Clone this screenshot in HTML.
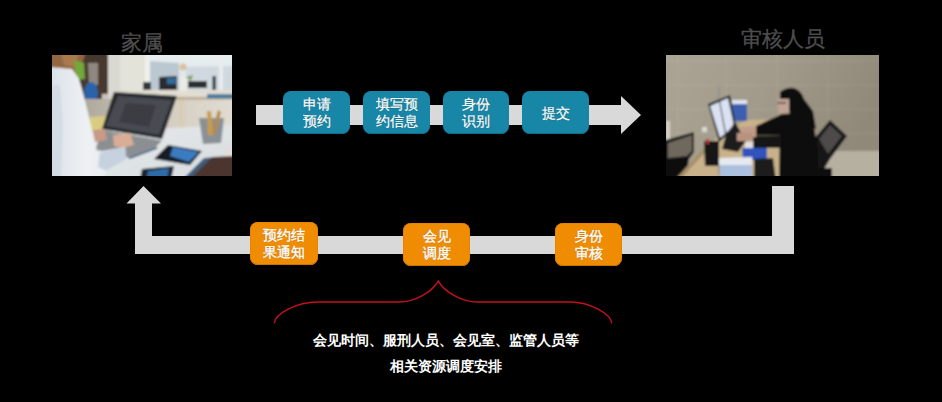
<!DOCTYPE html>
<html><head><meta charset="utf-8">
<style>
html,body{margin:0;padding:0;background:#000;}
body{width:942px;height:402px;position:relative;overflow:hidden;font-family:"Liberation Sans",sans-serif;}
.a{position:absolute;}
.ttl{position:absolute;color:#4e4e4e;font-size:21px;line-height:21px;-webkit-text-stroke:0.3px #4e4e4e;white-space:nowrap;}
.bar{position:absolute;background:#d9d9d9;}
.box{position:absolute;border-radius:7px;color:#fff;font-size:14px;line-height:17px;-webkit-text-stroke:0.25px #fff;text-align:center;display:flex;align-items:center;justify-content:center;box-sizing:border-box;text-shadow:0 0 1px rgba(0,0,0,.5);}
.blue{border-radius:8px;padding-top:1px;background:#1886a6;box-shadow:inset 0 -1px 0 #136a84;}
.orange{background:#f08c02;box-shadow:inset 0 -1px 0 #c97402, inset 0 0 0 0.5px #d87c04;padding-top:1px;border-radius:8px;-webkit-text-stroke:0.4px #fff;}
.note{position:absolute;color:#fff;font-size:14px;font-weight:bold;line-height:14px;white-space:nowrap;text-align:center;}
</style></head><body>

<div class="ttl" style="left:121px;top:32px;">家属</div>
<div class="ttl" style="left:741px;top:28px;">审核人员</div>

<!-- photo 1 -->
<div class="a" id="p1" style="left:52px;top:55px;width:180px;height:121px;overflow:hidden;"><svg width="180" height="121" viewBox="0 0 180 121">
<defs><filter id="b1" x="-10%" y="-10%" width="120%" height="120%"><feGaussianBlur stdDeviation="0.9"/></filter>
<linearGradient id="win" x1="0" y1="0" x2="0" y2="1"><stop offset="0" stop-color="#eaf0f2"/><stop offset="1" stop-color="#d8e1e6"/></linearGradient>
<linearGradient id="desk" x1="0" y1="0" x2="1" y2="1"><stop offset="0" stop-color="#e8eaea"/><stop offset="1" stop-color="#d6dce0"/></linearGradient>
<linearGradient id="shirt" x1="0" y1="0" x2="1" y2="0"><stop offset="0" stop-color="#dae1e8"/><stop offset="0.5" stop-color="#eef1f4"/><stop offset="1" stop-color="#e2e7ed"/></linearGradient>
<linearGradient id="floor" x1="0" y1="0" x2="1" y2="0"><stop offset="0" stop-color="#aaa59a"/><stop offset="0.5" stop-color="#d2cbbf"/><stop offset="1" stop-color="#e2ddd3"/></linearGradient>
<pattern id="dots" width="3" height="3" patternUnits="userSpaceOnUse"><rect width="3" height="3" fill="#3a3e44"/><rect x="0.5" y="0.5" width="1.6" height="1.4" fill="#24272b"/></pattern>
</defs>
<g filter="url(#b1)">
<rect x="-5" y="-5" width="190" height="131" fill="#d4d0c6"/>
<rect x="68" y="-5" width="119" height="42" fill="url(#win)"/>
<rect x="68" y="-5" width="26" height="42" fill="#e4e3da"/>
<path d="M97,6 L127,8 L127,36 L97,36 Z" fill="#bcc8d1"/>
<path d="M134,12 L184,11 L184,36 L134,36 Z" fill="#d0d9df"/>
<rect x="93" y="-4" width="5" height="40" fill="#eef0ec"/>
<rect x="167" y="-4" width="4" height="40" fill="#e8ecec"/>
<rect x="55" y="-5" width="13" height="46" fill="#d9d8d1"/>
<rect x="24" y="-5" width="32" height="54" fill="#46392f"/>
<path d="M36,8 L46,8 L46,30 L37,30 Z" fill="#8e8880"/>
<ellipse cx="39" cy="38" rx="7" ry="11" fill="#2a64aa"/>
<path d="M50,39 L56,39 L56,47 L50,47 Z" fill="#c9c2bb"/>
<rect x="26" y="44" width="160" height="34" fill="url(#floor)"/>
<rect x="127" y="44" width="5" height="30" fill="#d8ccb6"/>
<rect x="68" y="35" width="119" height="9" fill="#e2ddd2"/>
<rect x="68" y="42" width="119" height="2.5" fill="#b9a88f"/>
<path d="M91,27 L99,27 L99,35 L91,35 Z" fill="#30343a"/>
<path d="M107,22 L125,21 L125,35 L107,35 Z" fill="#2a2c30"/>
<path d="M115,23 L124,23 L124,29 L115,29 Z" fill="#2f6e9a"/>
<path d="M136,26 L155,26 L155,33 L136,33 Z" fill="#2c2e32"/>
<rect x="160.5" y="21" width="3.5" height="14" fill="#34393e"/>
<path d="M155,39 L184,39 L184,43.5 L155,43.5 Z" fill="#4a7fa0"/>
<ellipse cx="131" cy="12" rx="3.5" ry="3.5" fill="#dcc09a"/>
<path d="M128,22 L135,22 L135,36 L128,36 Z" fill="#eceae4"/>
<path d="M134,22 L141,20 L139,26 Z" fill="#7aa060"/>
<path d="M38,62 L55,61 L52,75 L38,75 Z" fill="#d9cc80"/>
<path d="M26,77 L184,70 L184,125 L26,125 Z" fill="url(#desk)"/>
<path d="M62,37 L125,41 L110,84 L50,74 Z" fill="#26292d"/>
<path d="M66,41 L120,45 L107,80 L54,71 Z" fill="#484c52"/>
<path d="M74,48 L104,50 L97,72 L67,67 Z" fill="#3a3d42"/>
<path d="M49.5,74.7 L110,85.4 L104,92 L76,102.6 L43.7,94.4 Z" fill="#8c8f92"/><path d="M76,102.6 L104,92 L106,93.5 L78,104 Z" fill="#4a6a8a"/>
<path d="M40.5,75 L53,74 L55,85 L43,87 Z" fill="#c89a88"/>
<path d="M61,80 L78,78 L82,90 L70,93 L62,91 Z" fill="#d9ad96"/>
<path d="M-4,-4 L34,-4 L31,6 L24,20 L14,15 L-4,12 Z" fill="#936642"/>
<path d="M8,-4 L28,-4 L22,12 L12,10 Z" fill="#a87a4e"/>
<path d="M22,5 L32,8 L33,24 L24,25 Z" fill="#74a83a"/>
<path d="M-4,12 L20,14 L27,24 L31,38 L34,50 L37,62 L40,75 L42,86 L45,97 L73,92 L74,104 L55,116 L50,125 L-4,125 Z" fill="url(#shirt)"/><path d="M47.8,97.7 L73.3,92 L74,104.3 L54.4,115.8 L46,112 Z" fill="#c6d2e0"/>
<path d="M-4,30 L8,30 L11,70 L9,125 L-4,125 Z" fill="#d3dbe4"/>
<path d="M102,104 L116,90 L150,96 L138,110 Z" fill="#161d27"/>
<path d="M118,101 L121,92 L147,97 L137,107 Z" fill="#3a7cc0"/>
<path d="M90,114 L122,111 L119,125 L88,125 Z" fill="#1a222c"/>
<path d="M96,116 L117,113 L115,125 L94,125 Z" fill="#2f6aa6"/>
<path d="M130,125 L152,103 L164,102 L150,125 Z" fill="#3f5d78"/>
<path d="M137,125 L160,102 L184,101 L184,125 Z" fill="#4c362e"/>
<rect x="173" y="93" width="8" height="8" fill="#e2ded6"/>
<path d="M147,63 L172,63 L169,88 L151,89 Z" fill="#8a9096"/>
<path d="M155,56 L159,56 L161,80 L156,80 Z" fill="#c89c4c"/>
<path d="M166,55 L169,57 L163,80 L160,78 Z" fill="#b88a44"/>
</g></svg></div>
<!-- photo 2 -->
<div class="a" id="p2" style="left:666px;top:55px;width:213px;height:121px;overflow:hidden;"><svg width="213" height="121" viewBox="0 0 213 121">
<defs><filter id="b2" x="-10%" y="-10%" width="120%" height="120%"><feGaussianBlur stdDeviation="0.8"/></filter>
<linearGradient id="wall" x1="0" y1="0" x2="1" y2="0.3"><stop offset="0" stop-color="#aba595"/><stop offset="0.5" stop-color="#a29b8b"/><stop offset="1" stop-color="#908979"/></linearGradient></defs>
<g filter="url(#b2)">
<rect x="-5" y="-5" width="223" height="131" fill="url(#wall)"/>
<path d="M0,6 H213 M0,30 H213 M0,54 H213 M0,78 H213 M12,0 V121 M60,0 V121 M111,0 V121 M162,0 V121" stroke="#ffffff" stroke-opacity="0.09" stroke-width="1" fill="none"/>
<rect x="158" y="96" width="70" height="30" fill="#b6b0a1"/>
<rect x="0" y="66" width="4" height="38" fill="#d6d0c4"/>
<rect x="36" y="72" width="5" height="5" fill="#dcd8d0"/>
<path d="M-4,86 L28,77 L28,97 L23,104 L-4,106 Z" fill="#161616"/>
<path d="M2,88 L26,80 L26,96 L21,101 L2,103 Z" fill="#6e685d"/>
<path d="M-4,104 L23,103 L20,125 L-4,125 Z" fill="#101010"/>
<path d="M9,125 L38,93 L60,75 L81,65 L114,64 L114,125 Z" fill="#c9b28b"/>
<path d="M9,125 L38,93 L40,96 L14,125 Z" fill="#a48e6a"/>
<rect x="52" y="31" width="1.2" height="90" fill="#8a8a88"/>
<path d="M66,45 L81,45 L81,66 L67,66 Z" fill="#3a5fae"/>
<path d="M66,45 L81,45 L81,49 L66,49 Z" fill="#dfe6f2"/>
<path d="M42,49 L64,40 L70,72 L53,87 Z" fill="#1c1f26"/>
<path d="M44,51 L62,43 L68,71 L54,83 Z" fill="#dbe2f2"/><path d="M53,46 L54,46 L60,78 L59,79 Z" fill="#3a3e48"/>
<path d="M69,67 L80,86 L72,97 L56,94 L60,80 Z" fill="#1b1b1f"/>
<path d="M38,86 L53,86 L53,111 L39,111 Z" fill="#141414"/>
<path d="M40,84 L43,84 L43,89 L40,89 Z" fill="#b03030"/>
<path d="M79,87 L106,86 L106,93 L79,93 Z" fill="#e0e0e2"/>
<path d="M76,93 L101,93 L101,105 L77,105 Z" fill="#3052bc"/>
<path d="M53,103 L86,102 L86,110 L53,110 Z" fill="#e6eaf0"/>
<path d="M54,110 L86,110 L86,125 L54,125 Z" fill="#aac0de"/>
<path d="M88,104 L107,103 L110,125 L88,125 Z" fill="#1c1c1c"/>
<path d="M148,84 L164,65 L181,81 L164,104 L158,114 L150,113 Z" fill="#121212"/>
<path d="M153,84 L164,70 L176,81 L162,99 Z" fill="#4d4b48"/>
<path d="M134,113 L166,113 L166,125 L134,125 Z" fill="#0e0e0e"/>
<path d="M114,37 Q121,32 128,33 Q136,36 138,44 L141,48 L147,56 L150,74 L144,72 L140,61 L137,59 L124,60 L122,48 L114,47 Z" fill="#0d0d0d"/>
<path d="M111.5,44 L123,44 L123,61 L113,61 Z" fill="#bfa596"/>
<path d="M111.5,47 L120,47 L120,48.5 L111.5,48.5 Z" fill="#6a2a2a"/>
<path d="M114,59 L137,58 L146,65 L149,77 L152,100 L152,125 L113,125 Z" fill="#0e0e0e"/>
<path d="M116,59 L90,71 L90,80.5 L116,80.5 Z" fill="#101010"/>
<path d="M115,80.5 L87,81 L87,93 L115,93 Z" fill="#131313"/>
<path d="M74,72 L90,71 L90,82 L75,82 Z" fill="#c29c88"/>
<path d="M71,78 L87,77 L87,86 L71,86 Z" fill="#b89480"/>
</g></svg></div>

<!-- top arrow -->
<div class="bar" style="left:256px;top:105px;width:366px;height:20px;"></div>
<svg class="a" style="left:620px;top:95px;" width="22" height="40"><polygon points="1,1 21,20 1,39" fill="#d9d9d9"/></svg>

<div class="box blue" style="left:283.4px;top:91.4px;width:66.8px;height:43px;">申请<br>预约</div>
<div class="box blue" style="left:363px;top:91.4px;width:67.2px;height:43px;">填写预<br>约信息</div>
<div class="box blue" style="left:442.7px;top:91.4px;width:66.8px;height:43px;">身份<br>识别</div>
<div class="box blue" style="left:522.2px;top:91.4px;width:67.1px;height:43px;">提交</div>

<!-- bottom arrow -->
<div class="bar" style="left:772px;top:186px;width:22px;height:68px;"></div>
<div class="bar" style="left:135px;top:236px;width:659px;height:18px;"></div>
<div class="bar" style="left:135px;top:202px;width:17px;height:52px;"></div>
<svg class="a" style="left:126px;top:185px;" width="36" height="19"><polygon points="0.5,18.5 17.5,1 35,18.5" fill="#d9d9d9"/></svg>

<div class="box orange" style="left:250px;top:222px;width:68px;height:43px;">预约结<br>果通知</div>
<div class="box orange" style="left:403px;top:223px;width:67px;height:43px;">会见<br>调度</div>
<div class="box orange" style="left:555px;top:223px;width:67px;height:43px;">身份<br>审核</div>

<!-- brace -->
<svg class="a" style="left:0;top:0;" width="942" height="402">
<path d="M274.2,323.3 C275,314 296,302 318,302 L399,302 C415,302 432,292 438.3,281.1 C444.6,292 461.6,302 477.6,302 L570,302 C590,302 611,314 611.8,323.3" fill="none" stroke="#c3121c" stroke-width="1.5" stroke-miterlimit="10"/>
</svg>

<div class="note" style="left:313px;top:333px;">会见时间、服刑人员、会见室、监管人员等</div>
<div class="note" style="left:390px;top:358.5px;">相关资源调度安排</div>

</body></html>
